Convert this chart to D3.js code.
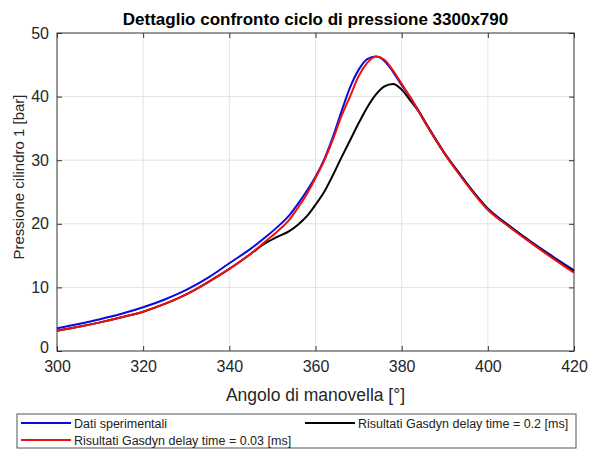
<!DOCTYPE html>
<html>
<head>
<meta charset="utf-8">
<script src="https://cdn.jsdelivr.net/npm/d3@7"></script>
<style>
  body { margin: 0; background: #fff; }
  svg { font-family: "Liberation Sans", Arial, sans-serif; }
</style>
</head>
<body>
<script>
// crank angle samples [deg]
const angles = [300, 305, 310, 315, 320, 325, 330, 335, 340, 345, 348, 351, 354, 356, 358,
    360, 362, 364, 366, 368, 370, 372, 374, 376, 378, 380, 382, 384, 386, 388, 390,
    393, 396, 400, 405, 410, 415, 420]

// pressione [bar]
const sperimentali = [3.57, 4.25, 5.0, 5.85, 6.87, 8.1, 9.6, 11.5, 13.8, 16.1, 17.7, 19.4, 21.4, 23.2, 25.2,
    27.4, 30.1, 33.6, 37.6, 41.4, 44.2, 45.9, 46.3, 45.6, 43.9, 41.8, 39.9, 37.7, 35.4, 33.2, 31.1,
    28.3, 25.6, 22.4, 19.7, 17.2, 14.9, 12.7]

const gasdyn02 = [3.2, 3.8, 4.5, 5.3, 6.18, 7.4, 8.9, 10.8, 12.9, 15.3, 16.8, 17.9, 18.9, 19.9, 21.2,
    23.0, 25.0, 27.6, 30.4, 33.1, 35.8, 38.3, 40.3, 41.6, 42.0, 41.1, 39.4, 37.6, 35.3, 33.1, 31.0,
    28.2, 25.5, 22.3, 19.6, 17.1, 14.7, 12.5]

const gasdyn003 = [3.2, 3.8, 4.5, 5.3, 6.18, 7.4, 8.9, 10.8, 12.9, 15.3, 17.0, 18.7, 20.7, 22.6, 24.7,
    27.2, 29.9, 33.2, 36.9, 40.0, 43.2, 45.3, 46.3, 45.8, 44.1, 42.0, 39.9, 37.6, 35.3, 33.1, 31.0,
    28.1, 25.4, 22.2, 19.5, 17.0, 14.6, 12.3]

const xTicks = [300, 320, 340, 360, 380, 400, 420]
const yTicks = [0, 10, 20, 30, 40, 50]

const series = [
    { name: 'Dati sperimentali', values: sperimentali, color: '#0a0ae0' },
    { name: 'Risultati Gasdyn delay time = 0.2 [ms]', values: gasdyn02, color: '#000000' },
    { name: 'Risultati Gasdyn delay time = 0.03 [ms]', values: gasdyn003, color: '#ee1111' }
]

const margin = { top: 33, right: 16, bottom: 99, left: 57 },
    width = 590 - margin.left - margin.right,
    height = 450 - margin.top - margin.bottom

const svg = d3.select('body').append('svg')
    .attr('width', 590)
    .attr('height', 450)

const g = svg.append('g')
    .attr('transform', 'translate(' + margin.left + ',' + margin.top + ')')

const x = d3.scaleLinear().domain([300, 420]).range([0, width])
const y = d3.scaleLinear().domain([0, 50]).range([height, 0])

// grid
g.append('g').selectAll('line')
    .data(xTicks.slice(1, -1))
    .enter().append('line')
    .attr('x1', d => x(d)).attr('x2', d => x(d))
    .attr('y1', 0).attr('y2', height)
    .attr('stroke', '#e3e3e3')
g.append('g').selectAll('line')
    .data(yTicks.slice(1, -1))
    .enter().append('line')
    .attr('y1', d => y(d)).attr('y2', d => y(d))
    .attr('x1', 0).attr('x2', width)
    .attr('stroke', '#e3e3e3')

// axes (ticks inward, box on)
function styleAxis(sel) {
    sel.select('.domain').remove()
    sel.selectAll('.tick line').attr('stroke', '#333')
    sel.selectAll('.tick text').attr('fill', '#262626').style('font-size', '16px')
}
g.append('g')
    .attr('transform', 'translate(0,' + height + ')')
    .call(d3.axisBottom(x).tickValues(xTicks).tickSizeInner(-5).tickSizeOuter(0).tickPadding(10))
    .call(styleAxis)
g.append('g')
    .call(d3.axisTop(x).tickValues(xTicks).tickSizeInner(-5).tickSizeOuter(0).tickFormat(''))
    .call(styleAxis)
const yAxis = g.append('g')
    .call(d3.axisLeft(y).tickValues(yTicks).tickSizeInner(-5).tickSizeOuter(0).tickPadding(8))
    .call(styleAxis)
// lift the "0" a bit so it clears the x labels
yAxis.selectAll('.tick text').filter(d => d === 0).attr('dy', '0.1em')
g.append('g')
    .attr('transform', 'translate(' + width + ',0)')
    .call(d3.axisRight(y).tickValues(yTicks).tickSizeInner(-5).tickSizeOuter(0).tickFormat(''))
    .call(styleAxis)

g.append('rect')
    .attr('width', width).attr('height', height)
    .attr('fill', 'none').attr('stroke', '#333').attr('stroke-width', 1)

// curves
const line = d3.line()
    .x((d, i) => x(angles[i]))
    .y(d => y(d))
    .curve(d3.curveMonotoneX)

g.append('g').selectAll('path')
    .data(series)
    .enter().append('path')
    .attr('d', d => line(d.values))
    .attr('fill', 'none')
    .attr('stroke', d => d.color)
    .attr('stroke-width', 2)

// title and labels
svg.append('text')
    .attr('x', margin.left + width / 2).attr('y', 25)
    .attr('text-anchor', 'middle')
    .style('font-size', '17px').style('font-weight', 'bold')
    .text('Dettaglio confronto ciclo di pressione 3300x790')

svg.append('text')
    .attr('x', margin.left + width / 2).attr('y', 401)
    .attr('text-anchor', 'middle')
    .attr('fill', '#262626')
    .style('font-size', '17.5px')
    .text('Angolo di manovella [°]')

svg.append('text')
    .attr('transform', 'translate(24,' + (margin.top + height / 2 - 15) + ') rotate(-90)')
    .attr('text-anchor', 'middle')
    .attr('fill', '#262626')
    .style('font-size', '15px')
    .text('Pressione cilindro 1 [bar]')

// legend
const legend = svg.append('g').attr('class', 'legend')
legend.append('rect')
    .attr('x', 17).attr('y', 414).attr('width', 559).attr('height', 34)
    .attr('fill', '#fff').attr('stroke', '#555').attr('stroke-width', 1)

const legendPos = [[21, 423], [305, 423], [21, 440]]
const items = legend.selectAll('g.item')
    .data(series)
    .enter().append('g')
    .attr('class', 'item')
    .attr('transform', (d, i) => 'translate(' + legendPos[i][0] + ',' + legendPos[i][1] + ')')
items.append('line')
    .attr('x1', 0).attr('x2', 50)
    .attr('stroke', d => d.color).attr('stroke-width', 2)
items.append('text')
    .attr('x', 53).attr('y', 4.5)
    .style('font-size', '12.5px')
    .attr('fill', '#222')
    .text(d => d.name)
</script>
</body>
</html>
